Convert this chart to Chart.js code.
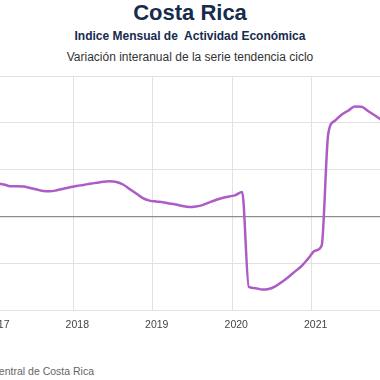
<!DOCTYPE html>
<html>
<head>
<meta charset="utf-8">
<script src="https://cdn.jsdelivr.net/npm/chart.js@4.4.1/dist/chart.umd.min.js"></script>
<style>
  html, body { margin:0; padding:0; background:#fff; }
  body { width:380px; height:380px; overflow:hidden; position:relative; font-family:"Liberation Sans", Arial, sans-serif; }
  .t { position:absolute; left:0; width:380px; text-align:center; white-space:pre; }
  #t1 { top:0px; font-size:22px; line-height:26px; font-weight:bold; color:#172b4d; }
  #t2 { top:29px; font-size:12px; line-height:14px; font-weight:bold; color:#172b4d; }
  #t3 { top:50px; font-size:12px; line-height:14px; color:#333; }
  #src { position:absolute; top:364px; right:286px; font-size:10.5px; line-height:14px; color:#666; white-space:nowrap; }
  #wrap { position:absolute; left:-70px; top:76px; }
</style>
</head>
<body>
<div class="t" id="t1">Costa Rica</div>
<div class="t" id="t2">Indice Mensual de  Actividad Económica</div>
<div class="t" id="t3">Variación interanual de la serie tendencia ciclo</div>
<div id="src">Fuente: Banco Central de Costa Rica</div>
<div id="wrap"><canvas id="c" width="485" height="263"></canvas></div>
<script>
const months = [
  "2016-10","2016-11","2016-12",
  "2017-01","2017-02","2017-03","2017-04","2017-05","2017-06","2017-07","2017-08","2017-09","2017-10","2017-11","2017-12",
  "2018-01","2018-02","2018-03","2018-04","2018-05","2018-06","2018-07","2018-08","2018-09","2018-10","2018-11","2018-12",
  "2019-01","2019-02","2019-03","2019-04","2019-05","2019-06","2019-07","2019-08","2019-09","2019-10","2019-11","2019-12",
  "2020-01","2020-02","2020-03","2020-04","2020-05","2020-06","2020-07","2020-08","2020-09","2020-10","2020-11","2020-12",
  "2021-01","2021-02","2021-03","2021-04","2021-05","2021-06","2021-07","2021-08","2021-09","2021-10","2021-11","2021-12",
  "2022-01"
];
const imaeVariation = [
  3.59, 3.59, 3.54,
  3.51, 3.43, 3.25, 3.25, 3.21, 3.05, 2.89, 2.73, 2.70, 2.81, 2.97, 3.13,
  3.27, 3.38, 3.50, 3.61, 3.72, 3.77, 3.70, 3.43, 2.95, 2.46, 1.98, 1.71,
  1.61, 1.54, 1.41, 1.29, 1.13, 1.03, 1.09, 1.23, 1.50, 1.77, 1.98, 2.14,
  2.30, 2.63, -7.50, -7.63, -7.78, -7.71, -7.43, -6.96, -6.43, -5.84, -5.25, -4.45,
  -3.64, -3.11, 8.84, 10.23, 10.88, 11.30, 11.75, 11.73, 11.27, 10.82, 10.34, 9.86,
  9.43
];
const yearTicks = [2017, 2018, 2019, 2020, 2021, 2022];
const yTicks = [-10, -5, 0, 5, 10, 15];

const points = months.map((m, i) => ({
  x: Number(m.slice(0, 4)) + (Number(m.slice(5, 7)) - 0.5) / 12,
  y: imaeVariation[i]
}));

new Chart(document.getElementById('c'), {
  type: 'line',
  data: {
    datasets: [{
      label: 'IMAE',
      data: points,
      borderColor: '#ad5cc6',
      borderWidth: 2.5,
      pointRadius: 0,
      fill: false,
      cubicInterpolationMode: 'monotone'
    }]
  },
  options: {
    responsive: false,
    animation: false,
    devicePixelRatio: 1,
    layout: { padding: 0 },
    plugins: { legend: { display: false }, title: { display: false }, tooltip: { enabled: false } },
    scales: {
      x: {
        type: 'linear',
        min: yearTicks[0] - 0.3,
        max: yearTicks[yearTicks.length - 1] + 0.3,
        afterBuildTicks: (s) => { s.ticks = yearTicks.map(v => ({ value: v })); },
        ticks: {
          callback: (v) => String(v),
          color: '#444',
          font: { family: '"Liberation Sans", Arial, sans-serif', size: 10.5 },
          padding: 8,
          labelOffset: 4,
          maxRotation: 0,
          autoSkip: false
        },
        grid: { color: '#e2e2e2', drawTicks: false, lineWidth: 1 },
        border: { display: false }
      },
      y: {
        min: yTicks[0],
        max: yTicks[yTicks.length - 1],
        afterBuildTicks: (s) => { s.ticks = yTicks.map(v => ({ value: v })); },
        afterFit: (s) => { s.width = 40; },
        ticks: { display: false },
        grid: {
          drawTicks: false,
          color: (ctx) => (ctx.tick && ctx.tick.value === 0) ? '#8e8e8e' : '#e2e2e2',
          lineWidth: (ctx) => (ctx.tick && ctx.tick.value === 0) ? 1.2 : 1
        },
        border: { display: false }
      }
    }
  }
});
</script>
</body>
</html>
